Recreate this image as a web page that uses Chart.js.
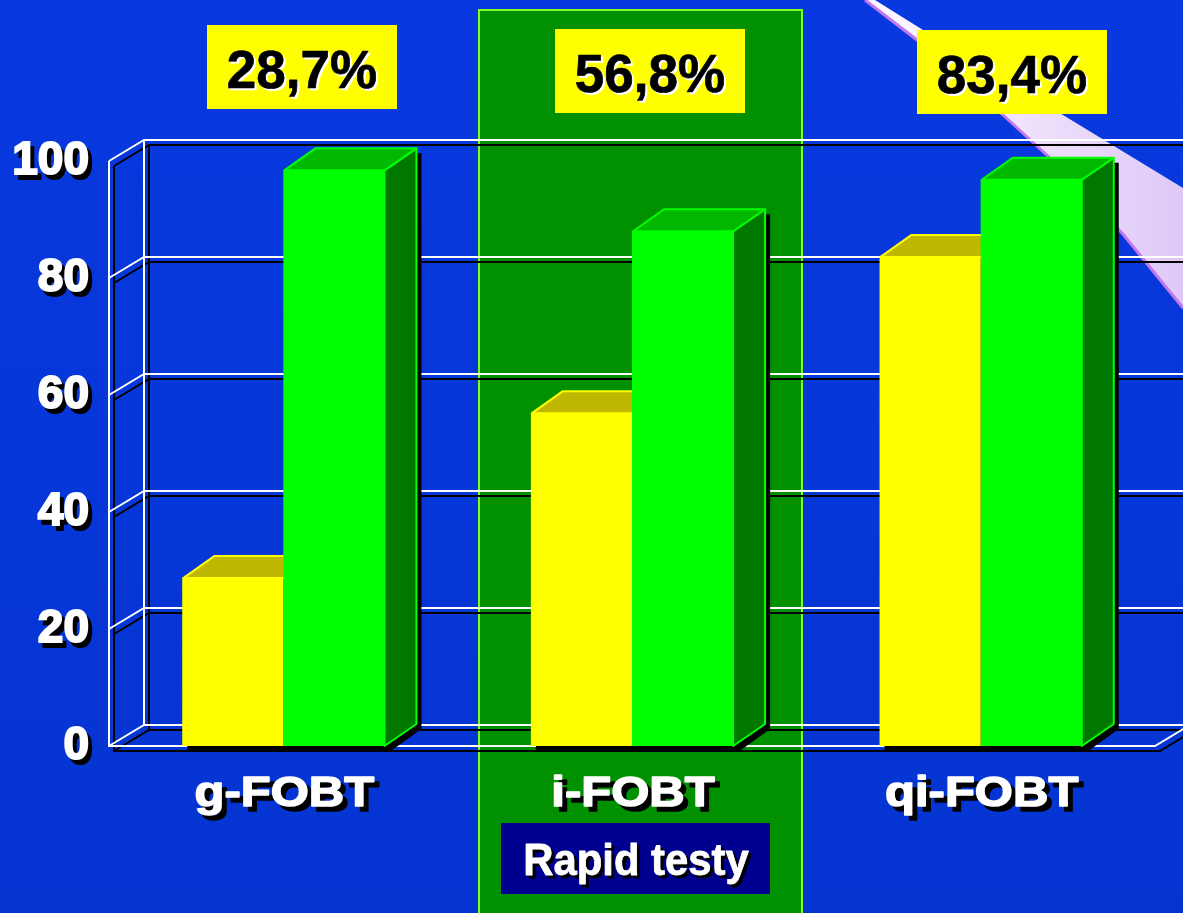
<!DOCTYPE html>
<html>
<head>
<meta charset="utf-8">
<style>
    html, body { margin: 0; padding: 0; background: #0636d6; overflow: hidden; }
    canvas { display: block; }
</style>
<script src="https://cdn.jsdelivr.net/npm/chart.js@4/dist/chart.umd.min.js"></script>
</head>
<body>
<canvas id="chart" width="1183" height="913"></canvas>
<script>
const categories = ['g-FOBT', 'i-FOBT', 'qi-FOBT'];
const yellowValues = [28.7, 56.9, 83.6];
const greenValues = [98.4, 88.0, 96.8];
const percentLabels = ['28,7%', '56,8%', '83,4%'];
const yTicks = [0, 20, 40, 60, 80, 100];
const bandLabel = 'Rapid testy';

const FONT = '"Liberation Sans", Arial, sans-serif';

/* text with a hard offset shadow, optionally stretched sideways */
function shadowText(ctx, text, x, y, size, color, shadow, off, stretch = 1, heavy = 1) {
    ctx.save();
    ctx.font = `bold ${size}px ${FONT}`;
    ctx.textAlign = 'center';
    ctx.textBaseline = 'alphabetic';
    ctx.lineJoin = 'round';
    ctx.lineWidth = heavy;
    ctx.translate(x, y);
    ctx.scale(stretch, 1);
    ctx.fillStyle = shadow;
    ctx.strokeStyle = shadow;
    ctx.strokeText(text, off / stretch, off);
    ctx.fillText(text, off / stretch, off);
    ctx.fillStyle = color;
    ctx.strokeStyle = color;
    ctx.strokeText(text, 0, 0);
    ctx.fillText(text, 0, 0);
    ctx.restore();
}

function poly(ctx, pts, fill, stroke, width) {
    ctx.beginPath();
    pts.forEach((p, i) => i ? ctx.lineTo(p[0], p[1]) : ctx.moveTo(p[0], p[1]));
    ctx.closePath();
    if (fill) { ctx.fillStyle = fill; ctx.fill(); }
    if (stroke) { ctx.strokeStyle = stroke; ctx.lineWidth = width; ctx.lineJoin = 'round'; ctx.stroke(); }
}

/* ── Backdrop: blue ground, light beam, highlighted column ── */
function drawBackdrop(ctx) {
    const bg = ctx.createLinearGradient(0, 0, 0, 913);
    bg.addColorStop(0, '#0839e0');
    bg.addColorStop(1, '#0434d0');
    ctx.fillStyle = bg;
    ctx.fillRect(0, 0, 1183, 913);

    const beam = ctx.createLinearGradient(900, 0, 1183, 0);
    beam.addColorStop(0, '#fbf6ff');
    beam.addColorStop(1, '#dfc8f8');
    ctx.beginPath();
    ctx.moveTo(875, 0);
    ctx.lineTo(923, 30);
    ctx.lineTo(1063, 115);
    ctx.lineTo(1183, 188);
    ctx.lineTo(1183, 308);
    ctx.lineTo(1122, 233);
    ctx.lineTo(1050, 158);
    ctx.lineTo(1003, 115);
    ctx.lineTo(917, 40);
    ctx.lineTo(865, 0);
    ctx.closePath();
    ctx.fillStyle = beam;
    ctx.fill();

    ctx.beginPath();
    ctx.moveTo(865, 0);
    ctx.lineTo(917, 40);
    ctx.lineTo(1003, 115);
    ctx.lineTo(1050, 158);
    ctx.lineTo(1122, 233);
    ctx.lineTo(1183, 308);
    ctx.strokeStyle = '#c078ea';
    ctx.lineWidth = 3;
    ctx.stroke();

    ctx.fillStyle = '#009000';
    ctx.fillRect(479, 10, 323, 910);
    ctx.strokeStyle = '#80ff20';
    ctx.lineWidth = 2;
    ctx.strokeRect(479, 10, 323, 910);
}

/* ── 3D wall and floor frame, drawn through the y scale ── */
function drawFrame(chart, ctx, color, off) {
    const y = chart.scales.y;
    const area = chart.chartArea;
    const dx = 35, dy = -21;
    const left = area.left + off;
    const right = area.right;

    ctx.save();
    ctx.strokeStyle = color;
    ctx.lineWidth = 2;
    ctx.beginPath();
    yTicks.forEach(v => {
        const py = y.getPixelForValue(v) + off;
        ctx.moveTo(left, py);
        ctx.lineTo(left + dx, py + dy);
        ctx.lineTo(1183, py + dy);
    });
    const top = y.getPixelForValue(100) + off;
    const base = y.getPixelForValue(0) + off;
    ctx.moveTo(left, top);
    ctx.lineTo(left, base);
    ctx.lineTo(right + off, base);
    ctx.lineTo(right + off + dx, base + dy);
    ctx.moveTo(left + dx, top + dy);
    ctx.lineTo(left + dx, base + dy);
    ctx.stroke();
    ctx.restore();
}

/* ── Bars' depth: shadow, top faces, side faces ── */
function barBox(bar) {
    const l = bar.x - bar.width / 2;
    return { l, r: l + bar.width, t: bar.y, b: bar.base };
}

function drawBarShadows(chart, ctx) {
    const dx = 32, dy = -22, off = 5;
    [0, 1].forEach(ds => {
        chart.getDatasetMeta(ds).data.forEach(bar => {
            const b = barBox(bar);
            poly(ctx, [
                [b.l + off, b.t + off], [b.l + dx + off, b.t + dy + off], [b.r + dx + off, b.t + dy + off],
                [b.r + dx + off, b.b + dy + off], [b.r + off, b.b + off + 1], [b.l + off, b.b + off + 1]
            ], '#000000');
        });
    });
}

function drawBarDepth(chart, ctx) {
    const dx = 32, dy = -22;
    chart.getDatasetMeta(0).data.forEach(bar => {
        const b = barBox(bar);
        poly(ctx, [[b.l + 1, b.t], [b.l + dx, b.t + dy], [b.r + dx, b.t + dy], [b.r, b.t]], '#c0b800', '#ffff00', 2);
    });
    chart.getDatasetMeta(1).data.forEach(bar => {
        const b = barBox(bar);
        poly(ctx, [[b.r, b.t], [b.r + dx, b.t + dy], [b.r + dx, b.b + dy], [b.r, b.b]], '#007800', '#00ff00', 2);
        poly(ctx, [[b.l + 1, b.t], [b.l + dx, b.t + dy], [b.r + dx, b.t + dy], [b.r, b.t]], '#00b800', '#00ff00', 2);
    });
}

const depthPlugin = {
    id: 'depth',
    beforeDraw(chart) {
        const ctx = chart.ctx;
        drawBackdrop(ctx);
        drawFrame(chart, ctx, '#000000', 5);
        drawFrame(chart, ctx, '#ffffff', 0);

        // shadows of the axis labels go under the native tick text
        const y = chart.scales.y;
        ctx.save();
        ctx.font = `bold 46px ${FONT}`;
        ctx.textAlign = 'right';
        ctx.textBaseline = 'middle';
        ctx.fillStyle = '#000000';
        ctx.strokeStyle = '#000000';
        ctx.lineWidth = 2;
        ctx.lineJoin = 'round';
        y.ticks.forEach(t => {
            ctx.strokeText(String(t.value), 89 + 4, y.getPixelForValue(t.value) + 5);
            ctx.fillText(String(t.value), 89 + 4, y.getPixelForValue(t.value) + 5);
        });
        ctx.restore();
    },
    beforeDatasetsDraw(chart) {
        drawBarShadows(chart, chart.ctx);
        drawBarDepth(chart, chart.ctx);
    },
    afterDraw(chart) {
        const ctx = chart.ctx;
        const x = chart.scales.x;

        categories.forEach((c, i) => {
            shadowText(ctx, c, x.getPixelForValue(i) + 1, 806, 43, '#ffffff', '#000000', 5, 1.14, 1.5);
        });

        // value boxes above each group
        const boxLeft = [207, 555, 917];
        const boxTop = [25, 29, 30];
        percentLabels.forEach((txt, i) => {
            ctx.fillStyle = '#ffff00';
            ctx.fillRect(boxLeft[i], boxTop[i], 190, 84);
            shadowText(ctx, txt, boxLeft[i] + 95, boxTop[i] + 63, 53, '#000000', '#ffffff', 2, 1, 0.7);
        });

        ctx.fillStyle = '#000090';
        ctx.fillRect(501, 823, 269, 71);
        shadowText(ctx, bandLabel, 636, 875, 45, '#ffffff', '#000000', 3, 0.93, 0.8);
    }
};

new Chart(document.getElementById('chart').getContext('2d'), {
    type: 'bar',
    data: {
        labels: categories,
        datasets: [
            { label: 'yellow', data: yellowValues, backgroundColor: '#ffff00', borderWidth: 0 },
            { label: 'green', data: greenValues, backgroundColor: '#00ff00', borderWidth: 0 },
        ]
    },
    options: {
        responsive: false,
        animation: false,
        layout: { padding: { top: 161, right: 28, left: 0, bottom: 0 } },
        categoryPercentage: 0.58,
        barPercentage: 1,
        plugins: { legend: { display: false }, tooltip: { enabled: false } },
        scales: {
            x: {
                grid: { display: false },
                border: { display: false },
                ticks: { display: false },
                afterFit: (s) => { s.height = 167; },
            },
            y: {
                min: 0,
                max: 100,
                grid: { display: false, drawTicks: false },
                border: { display: false },
                ticks: {
                    stepSize: 20,
                    padding: 20,
                    color: '#ffffff',
                    textStrokeColor: '#ffffff',
                    textStrokeWidth: 2,
                    font: { family: FONT, size: 46, weight: 'bold' },
                },
                afterFit: (s) => { s.width = 109; },
            }
        }
    },
    plugins: [depthPlugin]
});
</script>
</body>
</html>
